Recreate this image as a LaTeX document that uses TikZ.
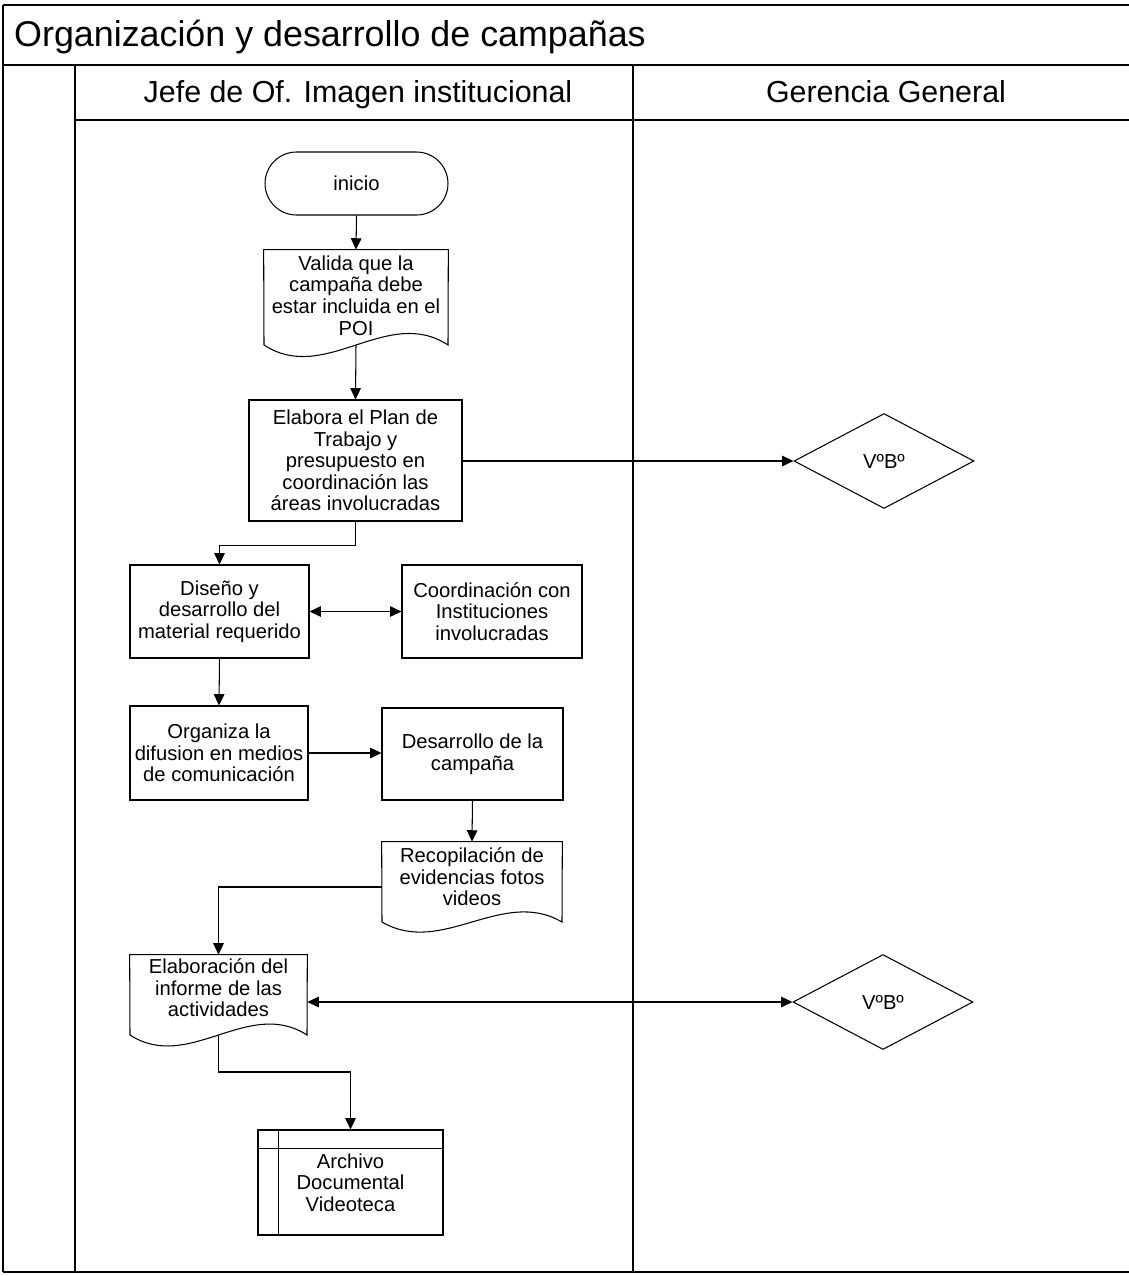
\documentclass[tikz,border=0pt]{standalone}
\usepackage{fontspec}
\setmainfont{Liberation Sans}
\usetikzlibrary{arrows.meta,shapes.geometric,calc}
\begin{document}
\begin{tikzpicture}[x=0.02cm,y=-0.02cm,
  line/.style={draw=black, line width=0.6pt},
  tip/.tip={Triangle[length=6.5pt,width=6pt]},
  conn/.style={line, -tip},
  biconn/.style={line, tip-tip},
  txt/.style={align=center, font=\fontsize{11.5}{12.3}\selectfont},
  box/.style={line, txt, inner sep=0pt},
  docbox/.style={txt, inner sep=0pt},
  startbox/.style={box, rounded corners=0.63cm},
  decision/.style={line, diamond, txt, inner sep=0pt, minimum width=3.6cm, minimum height=1.9cm},
  lanehead/.style={font=\fontsize{17.3}{20}\selectfont, anchor=base},
  titletext/.style={font=\fontsize{20.4}{24}\selectfont, anchor=west},
]
\useasboundingbox (0,0) rectangle (1129,1276);

% frame of the swimlane chart
\draw[line] (3,5) -- (1129,5);
\draw[line] (3,5) -- (3,1272);
\draw[line] (3,65) -- (1129,65);
\draw[line] (75,65) -- (75,1272);
\draw[line] (633,65) -- (633,1272);
\draw[line] (75,120) -- (1129,120);
\draw[line] (3,1272) -- (1129,1272);

\node[titletext] (title) at (8,37) {Organización y desarrollo de campañas};
\node[lanehead] (lane1) at (358,102) {Jefe de Of. Imagen institucional};
\node[lanehead] (lane2) at (886,102) {Gerencia General};

% start
\node[startbox, minimum width=3.66cm, minimum height=1.26cm] (inicio) at (356.5,183.5) {inicio};

% document: validation against the POI
\node[docbox, minimum width=3.68cm, minimum height=1.82cm] (valida) at (356,295.5) {Valida que la\\campaña debe\\estar incluida en el\\POI};
\draw[line] (valida.north west) -- (valida.north east) -- (448,345)
  .. controls (387,305) and (325,385) .. (264,345) -- cycle;
\coordinate (valida-out) at (356,345);

% work plan
\node[box, minimum width=4.26cm, minimum height=2.42cm] (plan) at (355.5,460.5) {Elabora el Plan de\\Trabajo y\\presupuesto en\\coordinación las\\áreas involucradas};

% approval in Gerencia General
\node[decision] (vb1) at (884,461) {VºBº};

\node[box, minimum width=3.58cm, minimum height=1.86cm] (diseno) at (219.5,611.5) {Diseño y\\desarrollo del\\material requerido};
\node[box, minimum width=3.6cm, minimum height=1.86cm] (coord) at (492,611.5) {Coordinación con\\Instituciones\\involucradas};
\node[box, minimum width=3.56cm, minimum height=1.88cm] (organiza) at (219,753) {Organiza la\\difusion en medios\\de comunicación};
\node[box, minimum width=3.62cm, minimum height=1.84cm] (desarrollo) at (472.5,754) {Desarrollo de la\\campaña};

% document: evidence collection
\node[docbox, minimum width=3.6cm, minimum height=1.4cm] (recop) at (472,877) {Recopilación de\\evidencias fotos\\videos};
\draw[line] (recop.north west) -- (recop.north east) -- (562,922)
  .. controls (502,887) and (442,957) .. (382,922) -- cycle;
\coordinate (recop-out) at ($(recop.west)+(0,10)$);

% document: activity report
\node[docbox, minimum width=3.54cm, minimum height=1.32cm] (informe) at (218.5,988) {Elaboración del\\informe de las\\actividades};
\draw[line] (informe.north west) -- (informe.north east) -- (307,1035)
  .. controls (248,997) and (189,1073) .. (130,1035) -- cycle;
\coordinate (informe-out) at (218.5,1035);

\node[decision] (vb2) at (883,1002) {VºBº};

% storage: archive
\node[box, minimum width=3.7cm, minimum height=2.1cm] (archivo) at (350.5,1182.5) {Archivo\\Documental\\Videoteca};
\draw[line] ($(archivo.north west)+(21,0)$) -- ($(archivo.south west)+(21,0)$);
\draw[line] ($(archivo.north west)+(0,19)$) -- ($(archivo.north east)+(0,19)$);

% connectors
\draw[conn] (inicio.south) -- (valida.north);
\draw[conn] (valida-out) -- (plan.north);
\draw[conn] (plan.east |- vb1.west) -- (vb1.west);
\draw[conn] (plan.south) -- ++(0,24) -| (diseno.north);
\draw[biconn] (diseno.east) -- (coord.west);
\draw[conn] (diseno.south) -- (organiza.north);
\draw[conn] (organiza.east) -- (organiza.east -| desarrollo.west);
\draw[conn] (desarrollo.south) -- (recop.north);
\draw[conn] (recop-out) -| (informe.north);
\draw[biconn] (vb2.west -| informe.east) -- (vb2.west);
\draw[conn] (informe-out) -- ++(0,37) -| (archivo.north);
\end{tikzpicture}
\end{document}
